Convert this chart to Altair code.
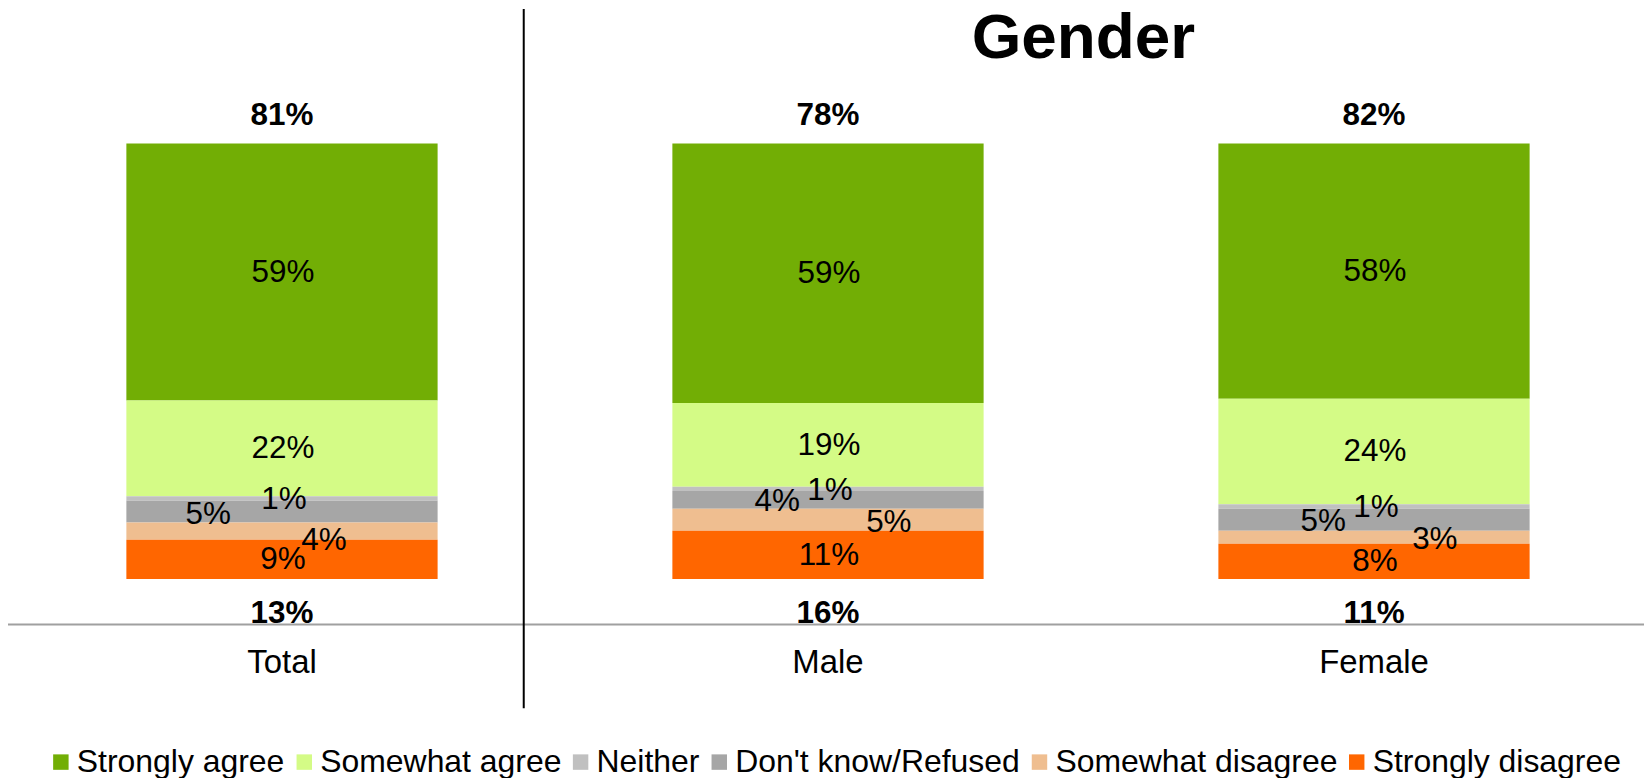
import altair as alt
import pandas as pd

# ---- data ----
categories = ["Total", "Male", "Female"]
series_legend = ["Strongly agree", "Somewhat agree", "Neither", "Don't know/Refused",
                 "Somewhat disagree", "Strongly disagree"]
colors = ["#72AE05", "#D4FB86", "#C0C0C0", "#A6A6A6", "#EFBE90", "#FF6600"]

strongly_agree = [59, 59, 58]
somewhat_agree = [22, 19, 24]
neither = [1, 1, 1]
dont_know = [5, 4, 5]
somewhat_disagree = [4, 5, 3]
strongly_disagree = [9, 11, 8]

agree_totals = [81, 78, 82]
disagree_totals = [13, 16, 11]

title_text = ["Gender"]

# stack order bottom -> top
stack_order = ["Strongly disagree", "Somewhat disagree", "Don't know/Refused",
               "Neither", "Somewhat agree", "Strongly agree"]
values_by_series = {
    "Strongly agree": strongly_agree,
    "Somewhat agree": somewhat_agree,
    "Neither": neither,
    "Don't know/Refused": dont_know,
    "Somewhat disagree": somewhat_disagree,
    "Strongly disagree": strongly_disagree,
}

rows = []
for ci, c in enumerate(categories):
    for s in series_legend:
        rows.append({"category": c, "series": s,
                     "value": values_by_series[s][ci],
                     "rank": stack_order.index(s)})
df = pd.DataFrame(rows)

totals = pd.DataFrame({"category": categories,
                       "agree": agree_totals,
                       "disagree": disagree_totals})

FONT = "Liberation Sans"
FS = 31.5

xscale = alt.Scale(domain=categories, range=[0, 1644],
                   paddingInner=0.4286, paddingOuter=0.2161)
yscale = alt.Scale(domain=[0, 1], range=[571.5, 135], nice=False, zero=False)

X = alt.X("category:N", sort=categories, scale=xscale, axis=None)

base = (
    alt.Chart(df)
    .transform_stack(stack="value", groupby=["category"], as_=["y0", "y1"],
                     sort=[alt.SortField("rank", order="ascending")],
                     offset="normalize")
    .transform_calculate(mid="(datum.y0 + datum.y1) / 2",
                         label="datum.value + '%'")
)

bars = base.mark_bar(size=312).encode(
    x=X,
    y=alt.Y("y0:Q", scale=yscale, axis=None),
    y2="y1:Q",
    color=alt.Color("series:N",
                    scale=alt.Scale(domain=series_legend, range=colors),
                    legend=alt.Legend(title=None, orient="none", direction="horizontal",
                                      legendX=37, legendY=739, padding=0,
                                      symbolType="square", symbolSize=240,
                                      symbolStrokeWidth=0, labelOffset=0,
                                      columnPadding=3, labelFontSize=32,
                                      labelFont=FONT, labelColor="black",
                                      labelLimit=1000)),
)


def seg_labels(filter_expr, dx=0, dy=0):
    return base.transform_filter(filter_expr).mark_text(
        font=FONT, fontSize=FS, color="black", baseline="middle",
        align="center", dx=dx, dy=dy
    ).encode(
        x=X,
        y=alt.Y("mid:Q", scale=yscale, axis=None),
        text="label:N",
    )


centered = seg_labels(
    "datum.series == 'Strongly agree' || datum.series == 'Somewhat agree' || "
    "datum.series == 'Strongly disagree'", dx=1, dy=1)
neither_lbl = seg_labels("datum.series == 'Neither'", dx=2, dy=2)
dk_total = seg_labels("datum.series == \"Don't know/Refused\" && datum.category == 'Total'", dx=-74, dy=3)
dk_other = seg_labels("datum.series == \"Don't know/Refused\" && datum.category != 'Total'", dx=-51, dy=2)
sd_total = seg_labels("datum.series == 'Somewhat disagree' && datum.category == 'Total'", dx=42, dy=10)
sd_other = seg_labels("datum.series == 'Somewhat disagree' && datum.category != 'Total'", dx=61, dy=3)

tot_base = alt.Chart(totals).transform_calculate(
    agree_lbl="datum.agree + '%'", disagree_lbl="datum.disagree + '%'")

top_totals = tot_base.mark_text(font=FONT, fontSize=FS, fontWeight="bold",
                                color="black", baseline="alphabetic", dy=-19).encode(
    x=X, y=alt.datum(1), text="agree_lbl:N",
)
bottom_totals = tot_base.mark_text(font=FONT, fontSize=FS, fontWeight="bold",
                                   color="black", baseline="alphabetic", dy=44).encode(
    x=X, y=alt.datum(0), text="disagree_lbl:N",
)
cat_labels = tot_base.mark_text(font=FONT, fontSize=33, color="black",
                                baseline="alphabetic", dy=94).encode(
    x=X, y=alt.datum(0), text="category:N",
)

baseline_rule = alt.Chart(pd.DataFrame({"a": [0]})).mark_rule(
    color="#A0A0A0", strokeWidth=2).encode(
    x=alt.value(0), x2=alt.value(1640), y=alt.value(617))

title = alt.Chart(pd.DataFrame({"t": title_text})).mark_text(
    font=FONT, fontSize=64, fontWeight="bold", color="black",
    baseline="alphabetic", align="center").encode(
    x=alt.value(1078), y=alt.value(49), text="t:N")

divider = alt.Chart(pd.DataFrame({"a": [0]})).mark_rule(
    color="black", strokeWidth=2).encode(
    x=alt.value(517), y=alt.value(0), y2=alt.value(701))

chart = alt.layer(
    bars, centered, neither_lbl, dk_total, dk_other, sd_total, sd_other,
    top_totals, bottom_totals, cat_labels, baseline_rule, title, divider
).properties(
    width=1640, height=770, padding=0,
    autosize=alt.AutoSizeParams(type="none"),
).configure(font=FONT).configure_view(stroke=None)

chart.save("out.html", embed_options={"renderer": "svg", "actions": False})
